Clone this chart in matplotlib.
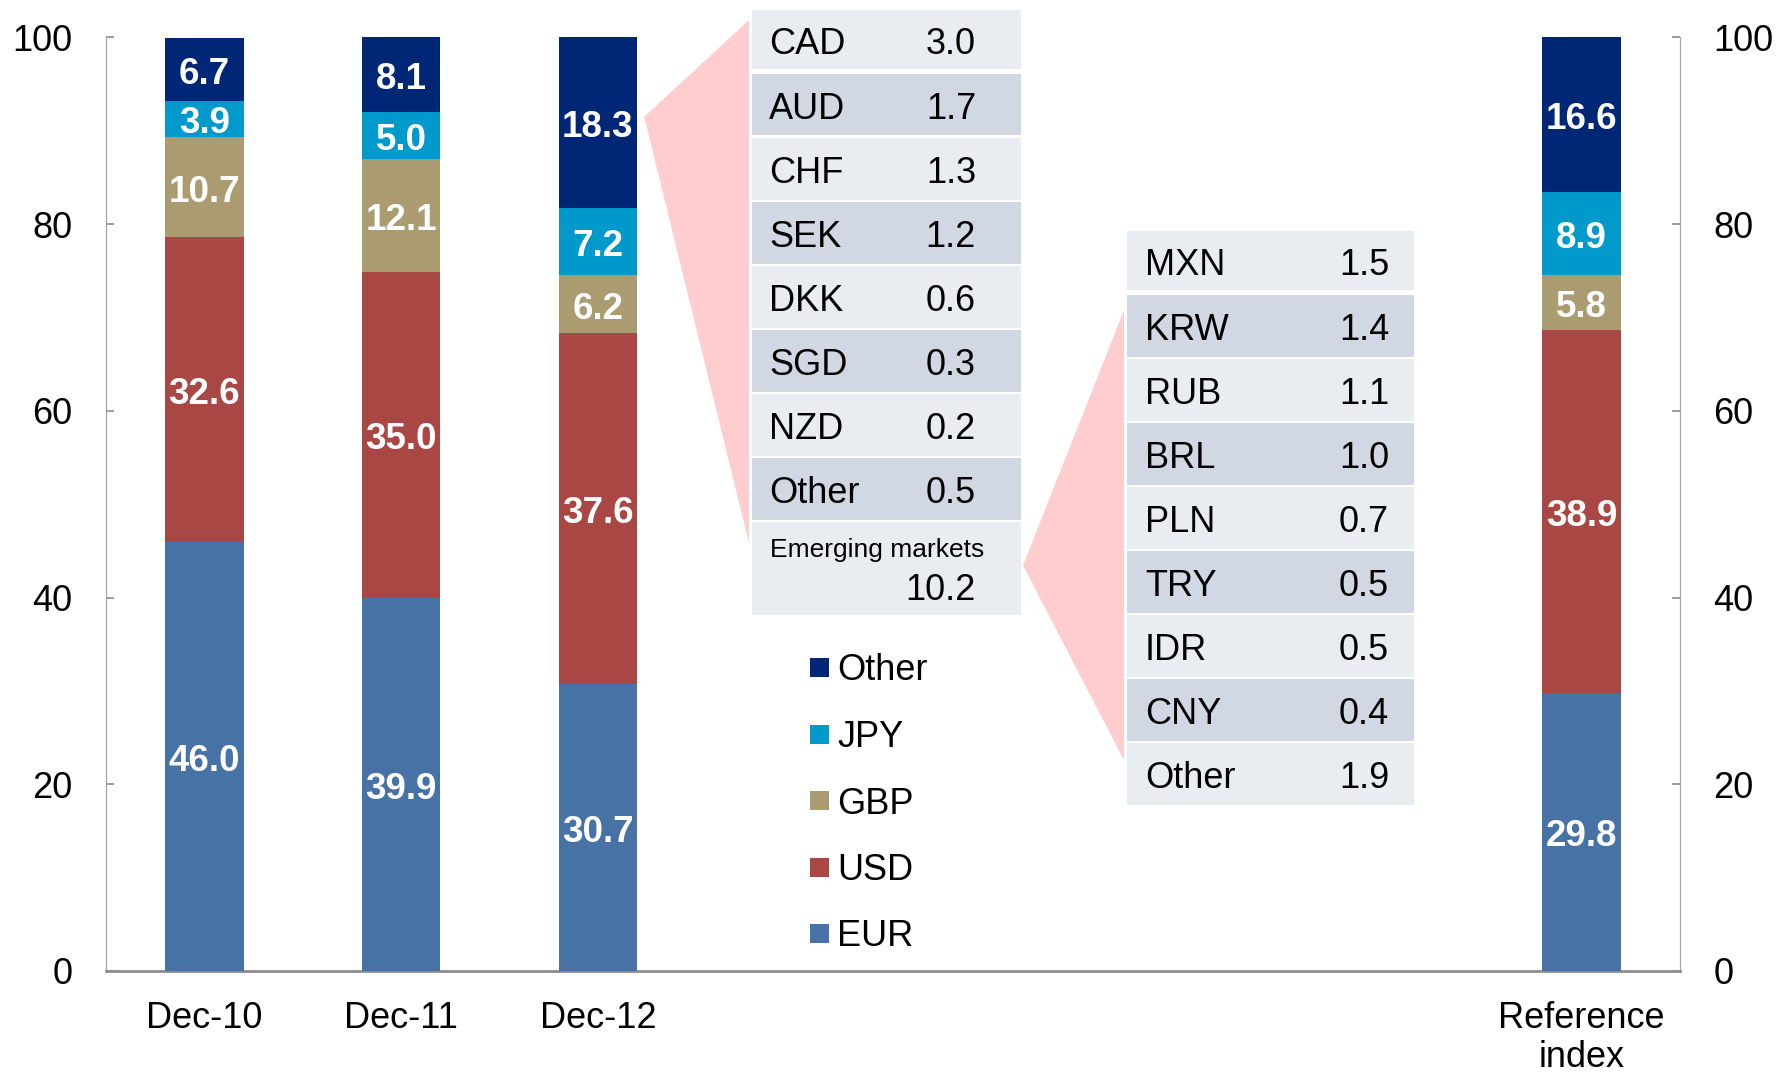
import matplotlib
matplotlib.use("Agg")
import matplotlib.pyplot as plt
from matplotlib.patches import Rectangle, Polygon
import numpy as np

plt.rcParams['font.family'] = ['Liberation Sans', 'DejaVu Sans']

# ---------------- data ----------------
categories = ["Dec-10", "Dec-11", "Dec-12", "Reference\nindex"]
cat_pos = [0, 1, 2, 7]
series = ["EUR", "USD", "GBP", "JPY", "Other"]
eur = [46.0, 39.9, 30.7, 29.8]
usd = [32.6, 35.0, 37.6, 38.9]
gbp = [10.7, 12.1, 6.2, 5.8]
jpy = [3.9, 5.0, 7.2, 8.9]
other = [6.7, 8.1, 18.3, 16.6]

dev_labels = ["CAD", "AUD", "CHF", "SEK", "DKK", "SGD", "NZD", "Other"]
dev_values = [3.0, 1.7, 1.3, 1.2, 0.6, 0.3, 0.2, 0.5]
em_title = "Emerging markets"
em_total = 10.2
em_labels = ["MXN", "KRW", "RUB", "BRL", "PLN", "TRY", "IDR", "CNY", "Other"]
em_values = [1.5, 1.4, 1.1, 1.0, 0.7, 0.5, 0.5, 0.4, 1.9]

yticks = [0, 20, 40, 60, 80, 100]

# ---------------- style ----------------
colors = {"EUR": "#4672A6", "USD": "#A94745", "GBP": "#AA9C70",
          "JPY": "#0099CC", "Other": "#002776"}
light_row = "#E9ECF1"
dark_row = "#D1D8E3"
pink = "#FFCDCE"

W, H = 1779, 1074
fig = plt.figure(figsize=(W / 100, H / 100), dpi=100)

def fx(x):
    return x / W

def fy(y):
    return 1 - y / H

ax_l, ax_r, ax_t, ax_b = 106, 1680, 37.4, 971
ax = fig.add_axes([fx(ax_l), fy(ax_b), (ax_r - ax_l) / W, (ax_b - ax_t) / H])
ax.set_xlim(-0.5, 7.5)
ax.set_ylim(0, 100)

data = {"EUR": eur, "USD": usd, "GBP": gbp, "JPY": jpy, "Other": other}
bottom = np.zeros(len(categories))
bar_w = 0.40
for s in series:
    vals = np.array(data[s])
    ax.bar(cat_pos, vals, bottom=bottom, width=bar_w, color=colors[s],
           edgecolor='none', zorder=3)
    for xp, b, v in zip(cat_pos, bottom, vals):
        ax.annotate(f"{v:.1f}", (xp, b + v / 2), xytext=(0, -3.5),
                    textcoords='offset points', ha='center', va='center',
                    color='white', fontsize=26.5, fontweight='bold', zorder=4)
    bottom = bottom + vals

# axes styling
ax.spines['top'].set_visible(False)
ax.spines['left'].set_color('#A6A6A6')
ax.spines['right'].set_color('#A6A6A6')
ax.spines['left'].set_linewidth(0.9)
ax.spines['right'].set_linewidth(0.9)
ax.spines['bottom'].set_color('#8C8C8C')
ax.spines['bottom'].set_linewidth(2.0)
ax.set_yticks(yticks)
ax.set_yticklabels([str(t) for t in yticks])
ax.tick_params(axis='y', direction='in', length=6, width=1.2, color='#8C8C8C',
               labelsize=26, left=True, right=True, labelleft=True,
               labelright=True, pad=24)
ax.set_xticks(cat_pos)
ax.set_xticklabels(categories, linespacing=1.15)
ax.tick_params(axis='x', length=0, labelsize=26, pad=21.5)

# ---------------- tables & connectors ----------------
dec12 = 2
tip_y = eur[dec12] + usd[dec12] + gbp[dec12] + jpy[dec12] + other[dec12] / 2
tip_disp = ax.transData.transform((cat_pos[dec12] + bar_w / 2, tip_y))
tip_fig = fig.transFigure.inverted().transform(tip_disp)
tip_fig = (tip_fig[0] + fx(7), tip_fig[1] + 6 / H)
fig.add_artist(Polygon([tip_fig, (fx(749), fy(20)), (fx(749), fy(543))],
                       closed=True, facecolor=pink, edgecolor='none', zorder=1))

t1_left, t1_right = 752, 1021
t2_left, t2_right = 1127, 1414
txt_dy = 5

def row_bounds(first_top, n_rows):
    bounds = [(first_top, first_top + 59)]
    start = first_top + 64
    for k in range(n_rows - 1):
        top = start + 64 * k
        bounds.append((top, top + 61.5))
    return bounds

def draw_table(left, right, first_top, labels, values, label_x, value_x):
    rb = row_bounds(first_top, len(labels))
    for i, ((t, b), lab, val) in enumerate(zip(rb, labels, values)):
        c = light_row if i % 2 == 0 else dark_row
        fig.add_artist(Rectangle((fx(left), fy(b)), (right - left) / W, (b - t) / H,
                                 facecolor=c, edgecolor='none', zorder=2))
        yc = (t + b) / 2 + txt_dy
        fig.text(fx(label_x), fy(yc), lab, ha='left', va='center', fontsize=26,
                 color='black', zorder=3)
        fig.text(fx(value_x), fy(yc), f"{val:.1f}", ha='right', va='center',
                 fontsize=26, color='black', zorder=3)
    return rb

rb1 = draw_table(t1_left, t1_right, 10, dev_labels, dev_values, 769, 976)
em_top = rb1[-1][0] + 64
em_bot = 615
fig.add_artist(Rectangle((fx(t1_left), fy(em_bot)), (t1_right - t1_left) / W,
                         (em_bot - em_top) / H, facecolor=light_row,
                         edgecolor='none', zorder=2))
fig.text(fx(770), fy(550.5), em_title, ha='left', va='center', fontsize=19,
         color='black', zorder=3)
fig.text(fx(976), fy(590.5), f"{em_total:.1f}", ha='right', va='center',
         fontsize=26, color='black', zorder=3)

fig.add_artist(Polygon([(fx(1023), fy((em_top + em_bot) / 2 - 3)),
                        (fx(1124), fy(310)), (fx(1124), fy(760))],
                       closed=True, facecolor=pink, edgecolor='none', zorder=1))

draw_table(t2_left, t2_right, 231, em_labels, em_values, 1145, 1389)

# ---------------- legend ----------------
leg_x, leg_y0, leg_dy, sq = 810, 667.5, 66.5, 19
for i, s in enumerate(series[::-1]):
    yc = leg_y0 + i * leg_dy
    fig.add_artist(Rectangle((fx(leg_x), fy(yc + sq / 2)), sq / W, sq / H,
                             facecolor=colors[s], edgecolor='none', zorder=3))
    fig.text(fx(837), fy(yc + 3.5), s, ha='left', va='center', fontsize=26,
             color='black', zorder=3)

fig.savefig("out.png", dpi=100)
